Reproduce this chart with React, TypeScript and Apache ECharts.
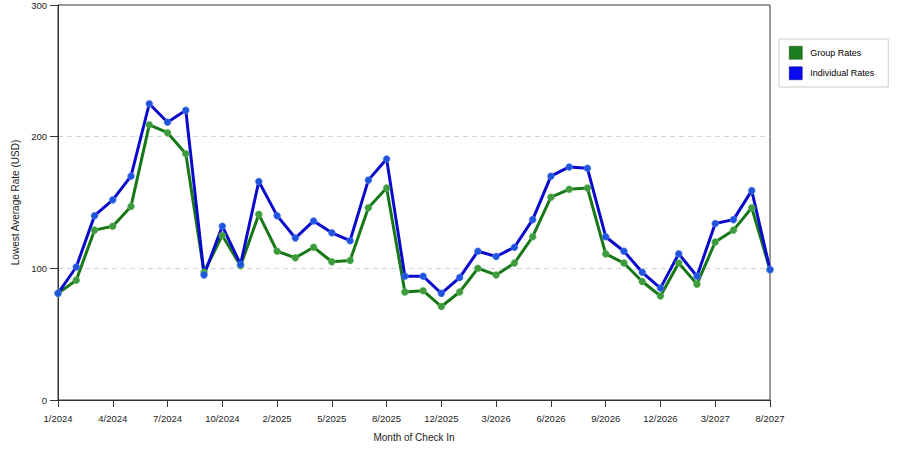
import React, { useEffect, useRef } from "react";
import * as echarts from "echarts";

const months = [
  '1/2024', '2/2024', '3/2024', '4/2024', '5/2024', '6/2024', '7/2024', '8/2024', '9/2024',
  '10/2024', '11/2024', '12/2024', '2/2025', '3/2025', '4/2025', '5/2025', '6/2025', '7/2025',
  '8/2025', '9/2025', '10/2025', '12/2025', '1/2026', '2/2026', '3/2026', '4/2026', '5/2026',
  '6/2026', '7/2026', '8/2026', '9/2026', '10/2026', '11/2026', '12/2026', '1/2027', '2/2027',
  '3/2027', '5/2027', '6/2027', '8/2027',
];

const groupRates = [
  81, 91, 129, 132, 147, 209, 203, 187, 97, 125,
  102, 141, 113, 108, 116, 105, 106, 146, 161, 82,
  83, 71, 82, 100, 95, 104, 124, 154, 160, 161,
  111, 104, 90, 79, 104, 88, 120, 129, 146, 99,
];

const individualRates = [
  81, 101, 140, 152, 170, 225, 211, 220, 95, 132,
  103, 166, 140, 123, 136, 127, 121, 167, 183, 94,
  94, 81, 93, 113, 109, 116, 137, 170, 177, 176,
  124, 113, 97, 85, 111, 94, 134, 137, 159, 99,
];

const yTicks = [0, 100, 200, 300];

const font = 'Liberation Sans, Arial, sans-serif';

const RateChart = () => {
  const chartContainer = useRef<HTMLDivElement>(null);
  const myChart = useRef<echarts.ECharts | null>(null);

  useEffect(() => {
    document.body.style.margin = '0';
    if (chartContainer.current) {
      myChart.current = echarts.init(chartContainer.current, null, { renderer: 'svg' });

      const option: echarts.EChartsOption = {
        animation: false,
        backgroundColor: '#fff',
        textStyle: { fontFamily: font },
        grid: {
          left: 58,
          right: 130,
          top: 5,
          bottom: 50,
          show: true,
          borderColor: '#333',
          borderWidth: 1,
          backgroundColor: 'transparent',
        },
        legend: {
          orient: 'vertical',
          left: 779,
          top: 39,
          padding: [7, 14, 7, 10],
          itemWidth: 13,
          itemHeight: 13,
          itemGap: 7,
          icon: 'rect',
          borderColor: '#ccc',
          borderWidth: 1,
          backgroundColor: '#fff',
          textStyle: { fontSize: 9, color: '#000', fontFamily: font, padding: [0, 0, 0, 3] },
          data: [
            { name: 'Group Rates', itemStyle: { color: '#1b7d1b', borderColor: '#0d4d0d', borderWidth: 0.5 } },
            { name: 'Individual Rates', itemStyle: { color: '#0a0aee', borderColor: '#00008a', borderWidth: 0.5 } },
          ],
        },
        xAxis: {
          type: 'category',
          data: months,
          boundaryGap: false,
          name: 'Month of Check In',
          nameLocation: 'middle',
          nameGap: 32,
          nameTextStyle: { fontSize: 10, color: '#222', fontFamily: font },
          axisLine: { lineStyle: { color: '#333' } },
          axisTick: { interval: 2, length: 7, lineStyle: { color: '#333' } },
          axisLabel: { interval: 2, fontSize: 9.5, color: '#222', margin: 13 },
          splitLine: { show: false },
        },
        yAxis: {
          type: 'value',
          min: yTicks[0],
          max: yTicks[yTicks.length - 1],
          interval: 100,
          name: 'Lowest Average Rate (USD)',
          nameLocation: 'middle',
          nameGap: 34,
          nameTextStyle: { fontSize: 10, color: '#222', fontFamily: font },
          axisLine: { show: true, lineStyle: { color: '#333' } },
          axisTick: { show: true, length: 8, lineStyle: { color: '#333' } },
          axisLabel: { fontSize: 9.5, color: '#222', margin: 11 },
          splitLine: {
            show: true,
            showMinLine: false,
            showMaxLine: false,
            lineStyle: { color: '#d0d4dc', type: [5, 4] },
          },
        },
        series: [
          {
            name: 'Group Rates',
            type: 'line',
            data: groupRates,
            symbol: 'circle',
            symbolSize: 7,
            color: '#1b7d1b',
            lineStyle: { color: '#187818', width: 3 },
            itemStyle: { color: '#3d9a3d', borderColor: '#6fbf6f', borderWidth: 0.5 },
          },
          {
            name: 'Individual Rates',
            type: 'line',
            data: individualRates,
            symbol: 'circle',
            symbolSize: 7,
            color: '#0a0aee',
            lineStyle: { color: '#0a0acc', width: 3 },
            itemStyle: { color: '#1f55dd', borderColor: '#6f8fee', borderWidth: 0.5 },
          },
        ],
      };

      myChart.current.setOption(option);

      return () => {
        if (myChart.current) {
          myChart.current.dispose();
        }
      };
    }
  }, []);

  return <div ref={chartContainer} style={{ width: 900, height: 450 }} />;
};

export default function App() {
  return <RateChart />;
}
